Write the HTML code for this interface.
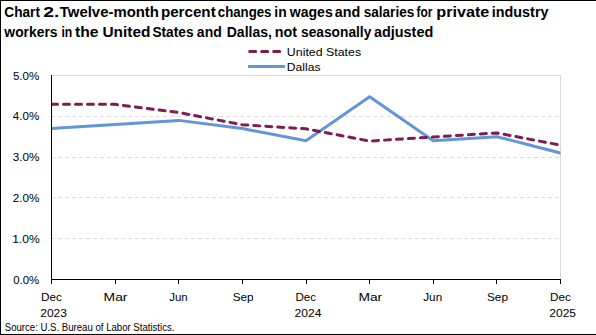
<!DOCTYPE html>
<html><head><meta charset="utf-8"><style>
html,body{margin:0;padding:0;background:#fff;}
#c{position:relative;width:596px;height:335px;overflow:hidden;background:#fff;}
#b{position:absolute;left:0;top:0;width:596px;height:335px;box-sizing:border-box;border-top:1px solid #000;border-left:1px solid #000;border-bottom:1px solid #000;}
svg{position:absolute;left:0;top:0;}
</style></head><body><div id="c"><div id="b"></div>
<svg width="596" height="335" viewBox="0 0 596 335">
<line x1="51" y1="238.5" x2="560" y2="238.5" stroke="#dcdcdc" stroke-width="1" stroke-dasharray="4 3" shape-rendering="crispEdges"/>
<line x1="51" y1="197.5" x2="560" y2="197.5" stroke="#dcdcdc" stroke-width="1" stroke-dasharray="4 3" shape-rendering="crispEdges"/>
<line x1="51" y1="157.5" x2="560" y2="157.5" stroke="#dcdcdc" stroke-width="1" stroke-dasharray="4 3" shape-rendering="crispEdges"/>
<line x1="51" y1="116.5" x2="560" y2="116.5" stroke="#dcdcdc" stroke-width="1" stroke-dasharray="4 3" shape-rendering="crispEdges"/>
<line x1="52" y1="75.5" x2="561" y2="75.5" stroke="#d9d9d9" stroke-width="1" shape-rendering="crispEdges"/>
<line x1="560.5" y1="75" x2="560.5" y2="279" stroke="#d9d9d9" stroke-width="1" shape-rendering="crispEdges"/>
<clipPath id="pc"><rect x="51" y="60" width="509.5" height="230"/></clipPath>
<g clip-path="url(#pc)">
<polyline points="48.51,128.73 115.12,124.46 178.75,120.38 242.38,128.54 306.00,140.78 369.62,96.72 433.25,140.78 496.88,136.70 563.41,153.77" fill="none" stroke="#6495d8" stroke-width="3" stroke-linejoin="round"/>
<polyline points="48.50,104.36 115.12,104.36 178.75,112.52 242.38,124.76 306.00,128.84 369.62,141.08 433.25,137.00 496.88,132.92 563.45,145.73" fill="none" stroke="#7d1e50" stroke-width="3" stroke-dasharray="6 6" stroke-dashoffset="9" stroke-linecap="round" stroke-linejoin="round"/>
</g>
<line x1="51.5" y1="75" x2="51.5" y2="284" stroke="#000" stroke-width="1" shape-rendering="crispEdges"/>
<line x1="51" y1="279.5" x2="561" y2="279.5" stroke="#000" stroke-width="1" shape-rendering="crispEdges"/>
<line x1="115.5" y1="279" x2="115.5" y2="284" stroke="#000" stroke-width="1" shape-rendering="crispEdges"/>
<line x1="178.5" y1="279" x2="178.5" y2="284" stroke="#000" stroke-width="1" shape-rendering="crispEdges"/>
<line x1="242.5" y1="279" x2="242.5" y2="284" stroke="#000" stroke-width="1" shape-rendering="crispEdges"/>
<line x1="306.5" y1="279" x2="306.5" y2="284" stroke="#000" stroke-width="1" shape-rendering="crispEdges"/>
<line x1="369.5" y1="279" x2="369.5" y2="284" stroke="#000" stroke-width="1" shape-rendering="crispEdges"/>
<line x1="433.5" y1="279" x2="433.5" y2="284" stroke="#000" stroke-width="1" shape-rendering="crispEdges"/>
<line x1="496.5" y1="279" x2="496.5" y2="284" stroke="#000" stroke-width="1" shape-rendering="crispEdges"/>
<line x1="560.5" y1="279" x2="560.5" y2="284" stroke="#000" stroke-width="1" shape-rendering="crispEdges"/>
<line x1="249.7" y1="51.5" x2="281.7" y2="51.5" stroke="#7d1e50" stroke-width="3" stroke-dasharray="6 6" stroke-linecap="round"/>
<line x1="248" y1="66.5" x2="285" y2="66.5" stroke="#6495d8" stroke-width="3"/>
<g font-family="Liberation Sans, sans-serif" fill="#000">
<text x="4.35" y="17" font-size="14" font-weight="bold" textLength="35.60" lengthAdjust="spacingAndGlyphs">Chart</text>
<text x="43.31" y="17" font-size="14" font-weight="bold" textLength="16.13" lengthAdjust="spacingAndGlyphs">2.</text>
<text x="59.82" y="17" font-size="14" font-weight="bold" textLength="99.12" lengthAdjust="spacingAndGlyphs">Twelve-month</text>
<text x="160.90" y="17" font-size="14" font-weight="bold" textLength="54.80" lengthAdjust="spacingAndGlyphs">percent</text>
<text x="217.78" y="17" font-size="14" font-weight="bold" textLength="53.71" lengthAdjust="spacingAndGlyphs">changes</text>
<text x="274.28" y="17" font-size="14" font-weight="bold" textLength="12.37" lengthAdjust="spacingAndGlyphs">in</text>
<text x="289.77" y="17" font-size="14" font-weight="bold" textLength="42.93" lengthAdjust="spacingAndGlyphs">wages</text>
<text x="334.86" y="17" font-size="14" font-weight="bold" textLength="25.49" lengthAdjust="spacingAndGlyphs">and</text>
<text x="363.71" y="17" font-size="14" font-weight="bold" textLength="50.55" lengthAdjust="spacingAndGlyphs">salaries</text>
<text x="416.61" y="17" font-size="14" font-weight="bold" textLength="15.91" lengthAdjust="spacingAndGlyphs">for</text>
<text x="436.30" y="17" font-size="14" font-weight="bold" textLength="53.03" lengthAdjust="spacingAndGlyphs">private</text>
<text x="491.85" y="17" font-size="14" font-weight="bold" textLength="56.61" lengthAdjust="spacingAndGlyphs">industry</text>
<text x="4.35" y="36.6" font-size="14" font-weight="bold" textLength="53.20" lengthAdjust="spacingAndGlyphs">workers</text>
<text x="61.43" y="36.6" font-size="14" font-weight="bold" textLength="10.90" lengthAdjust="spacingAndGlyphs">in</text>
<text x="75.09" y="36.6" font-size="14" font-weight="bold" textLength="23.50" lengthAdjust="spacingAndGlyphs">the</text>
<text x="102.41" y="36.6" font-size="14" font-weight="bold" textLength="48.07" lengthAdjust="spacingAndGlyphs">United</text>
<text x="152.45" y="36.6" font-size="14" font-weight="bold" textLength="41.08" lengthAdjust="spacingAndGlyphs">States</text>
<text x="196.85" y="36.6" font-size="14" font-weight="bold" textLength="24.90" lengthAdjust="spacingAndGlyphs">and</text>
<text x="226.78" y="36.6" font-size="14" font-weight="bold" textLength="45.12" lengthAdjust="spacingAndGlyphs">Dallas,</text>
<text x="274.81" y="36.6" font-size="14" font-weight="bold" textLength="22.23" lengthAdjust="spacingAndGlyphs">not</text>
<text x="301.05" y="36.6" font-size="14" font-weight="bold" textLength="70.25" lengthAdjust="spacingAndGlyphs">seasonally</text>
<text x="373.92" y="36.6" font-size="14" font-weight="bold" textLength="59.33" lengthAdjust="spacingAndGlyphs">adjusted</text>
<text x="286.83" y="55.9" font-size="11.5" textLength="74.27" lengthAdjust="spacingAndGlyphs">United States</text>
<text x="286.82" y="70.7" font-size="11.5" textLength="33.63" lengthAdjust="spacingAndGlyphs">Dallas</text>
<text x="13.27" y="283.5" font-size="11" textLength="26.00" lengthAdjust="spacingAndGlyphs">0.0%</text>
<text x="12.15" y="242.7" font-size="11" textLength="27.53" lengthAdjust="spacingAndGlyphs">1.0%</text>
<text x="12.68" y="201.9" font-size="11" textLength="26.68" lengthAdjust="spacingAndGlyphs">2.0%</text>
<text x="12.76" y="161.10000000000002" font-size="11" textLength="26.78" lengthAdjust="spacingAndGlyphs">3.0%</text>
<text x="12.81" y="120.30000000000001" font-size="11" textLength="26.56" lengthAdjust="spacingAndGlyphs">4.0%</text>
<text x="12.92" y="79.5" font-size="11" textLength="26.37" lengthAdjust="spacingAndGlyphs">5.0%</text>
<text x="40.91" y="301" font-size="11" textLength="20.90" lengthAdjust="spacingAndGlyphs">Dec</text>
<text x="103.60" y="301" font-size="11" textLength="23.86" lengthAdjust="spacingAndGlyphs">Mar</text>
<text x="169.28" y="301" font-size="11" textLength="18.47" lengthAdjust="spacingAndGlyphs">Jun</text>
<text x="232.66" y="301" font-size="11" textLength="20.93" lengthAdjust="spacingAndGlyphs">Sep</text>
<text x="295.44" y="301" font-size="11" textLength="20.55" lengthAdjust="spacingAndGlyphs">Dec</text>
<text x="358.49" y="301" font-size="11" textLength="23.71" lengthAdjust="spacingAndGlyphs">Mar</text>
<text x="423.27" y="301" font-size="11" textLength="18.90" lengthAdjust="spacingAndGlyphs">Jun</text>
<text x="487.01" y="301" font-size="11" textLength="21.01" lengthAdjust="spacingAndGlyphs">Sep</text>
<text x="549.91" y="301" font-size="11" textLength="20.90" lengthAdjust="spacingAndGlyphs">Dec</text>
<text x="40.19" y="316.6" font-size="11" textLength="26.78" lengthAdjust="spacingAndGlyphs">2023</text>
<text x="294.52" y="316.6" font-size="11" textLength="26.89" lengthAdjust="spacingAndGlyphs">2024</text>
<text x="549.36" y="316.6" font-size="11" textLength="26.64" lengthAdjust="spacingAndGlyphs">2025</text>
<text x="4.75" y="330.8" font-size="10" textLength="169.70" lengthAdjust="spacingAndGlyphs">Source: U.S. Bureau of Labor Statistics.</text>
</g>
</svg></div></body></html>
